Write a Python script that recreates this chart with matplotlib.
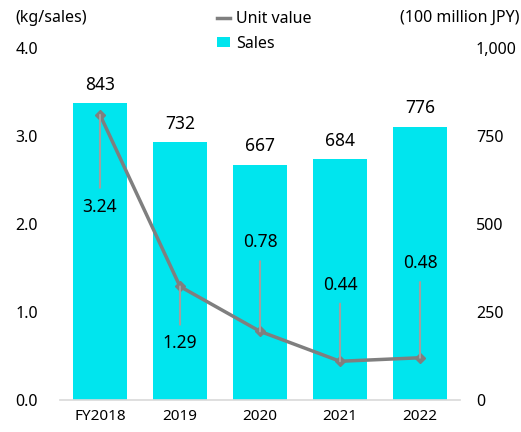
import numpy as np
import matplotlib.pyplot as plt
from matplotlib.lines import Line2D

years = ['FY2018', '2019', '2020', '2021', '2022']
sales = [843, 732, 667, 684, 776]
unit_value = [3.24, 1.29, 0.78, 0.44, 0.48]

plt.rcParams['font.family'] = ['Noto Sans', 'DejaVu Sans']

bar_color = '#00e5ee'
line_color = '#7f7f7f'

fig = plt.figure(figsize=(5.21, 4.32), dpi=100)
ax = fig.add_axes([60 / 521, 32 / 432, 400 / 521, 352 / 432])
ax2 = ax.twinx()
x = np.arange(len(years))

# 막대 (오른쪽 축)
bars = ax.bar(x, sales, width=0.675, color=bar_color, label='Sales', zorder=2)
ax.set_xlim(-0.5, len(years) - 0.5)
ax.set_ylim(0, 1000)
ax.yaxis.tick_right()
ax.set_yticks([0, 250, 500, 750, 1000])
ax.set_yticklabels(['0', '250', '500', '750', '1,000'], ha='left')
ax.tick_params(axis='y', length=0, pad=11.5, labelsize=11.5)
ax.set_xticks(x)
ax.set_xticklabels(years)
ax.tick_params(axis='x', length=0, pad=6.5, labelsize=11)
for s in ['top', 'left', 'right']:
    ax.spines[s].set_visible(False)
ax.spines['bottom'].set_color('#d9d9d9')
ax.spines['bottom'].set_linewidth(1.2)

for xi, v in zip(x, sales):
    ax.annotate(str(v), (xi, v), xytext=(0, 7), textcoords='offset points',
                ha='center', va='bottom', fontsize=12.5)

# 선 (왼쪽 축)
ax2.set_ylim(0, 4.0)
ax2.yaxis.tick_left()
ax2.set_yticks([0, 1, 2, 3, 4])
ax2.set_yticklabels(['0.0', '1.0', '2.0', '3.0', '4.0'], ha='left')
ax2.tick_params(axis='y', length=0, pad=32, labelsize=11.5)
for s in ax2.spines.values():
    s.set_visible(False)
ax2.plot(x, unit_value, color=line_color, lw=2.5, marker='D', markersize=5, zorder=3)

label_dy = [-66, -41, 64, 55, 68]
for xi, v, dy in zip(x, unit_value, label_dy):
    ax2.annotate(f'{v:.2f}', (xi, v), xytext=(0, dy), textcoords='offset points',
                 ha='center', va='center', fontsize=12.5,
                 arrowprops=dict(arrowstyle='-', color='#a0a0a0', lw=1.5,
                                 shrinkA=5, shrinkB=0))

fig.text(15 / 521, 1 - 18 / 432, '(kg/sales)', ha='left', va='center', fontsize=11.5)
fig.text(519 / 521, 1 - 18 / 432, '(100 million JPY)', ha='right', va='center', fontsize=11.5)

line_handle = Line2D([], [], color=line_color, lw=2.5)
fig.legend(handles=[line_handle, bars], labels=['Unit value', 'Sales'],
           loc='upper left', bbox_to_anchor=(217 / 521, 1 - 11 / 432), frameon=False,
           fontsize=11.5, handlelength=0.8, handleheight=0.6, handletextpad=0.4,
           labelspacing=0.55, borderaxespad=0, borderpad=0)

plt.savefig('out.png', dpi=100)
